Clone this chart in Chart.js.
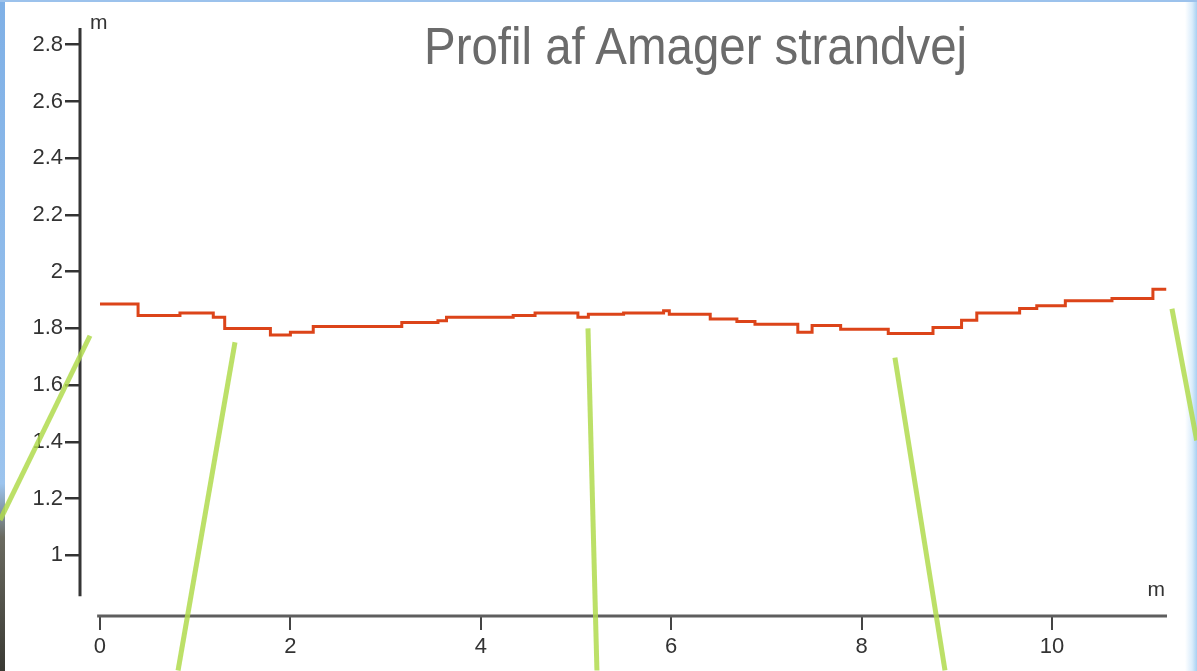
<!DOCTYPE html>
<html>
<head>
<meta charset="utf-8">
<title>Profil af Amager strandvej</title>
<script src="https://cdn.jsdelivr.net/npm/chart.js@4"></script>
<style>
    html, body { margin: 0; padding: 0; background: #fff; }
    #slide {
        position: relative;
        width: 1197px;
        height: 671px;
        overflow: hidden;
        background: #fff;
        border-top: 2px solid #9cc2ec;
        box-sizing: border-box;
    }
    #edgeRight {
        position: absolute; top: 0; right: 0; width: 12px; height: 100%;
        background: linear-gradient(to right, #ffffff, #d9ecfb 60%, #a8d0f2);
    }
    #edgeLeft {
        position: absolute; top: 0; left: 0; width: 5px; height: 100%;
        background: linear-gradient(to bottom, #7fb0e6 0%, #9cc4ee 72%, #6a6a60 80%, #3a3a34 100%);
    }
    #title {
        position: absolute; left: 424px; top: 19px;
        font-family: "Liberation Sans", Arial, sans-serif;
        font-size: 51px; line-height: 1; color: #6b6b6b;
        white-space: nowrap;
        transform: scaleX(0.93);
        transform-origin: left top;
    }
    #chartBox { position: absolute; left: 0; top: -2px; width: 1197px; height: 671px; }
</style>
</head>
<body>
<div id="slide">
    <div id="edgeLeft"></div>
    <div id="edgeRight"></div>
    <div id="chartBox"><canvas id="profileChart"></canvas></div>
    <div id="title">Profil af Amager strandvej</div>
</div>
<script>
// Road profile, distance (m) -> height (m)
const distance = [0, 0.40, 0.84, 1.19, 1.31, 1.79, 2.00, 2.24, 3.17, 3.55, 3.64, 4.34, 4.57, 5.02, 5.13, 5.50,
    5.92, 5.98, 6.41, 6.69, 6.88, 7.33, 7.48, 7.78, 8.28, 8.75, 9.05, 9.21, 9.66, 9.84, 10.14, 10.63, 11.06, 11.2];
const height = [1.886, 1.845, 1.854, 1.839, 1.800, 1.777, 1.786, 1.807, 1.821, 1.827, 1.839, 1.845, 1.854, 1.839, 1.850, 1.854,
    1.862, 1.850, 1.833, 1.824, 1.815, 1.786, 1.810, 1.797, 1.782, 1.803, 1.829, 1.854, 1.870, 1.880, 1.897, 1.905, 1.938, 1.938];

// Tick labels
const xTicks = [0, 2, 4, 6, 8, 10];
const yTicks = [1, 1.2, 1.4, 1.6, 1.8, 2, 2.2, 2.4, 2.6, 2.8];

// Green pointer lines on the slide, as [distance, height] pairs
const pointerStart = [[-1.05, 1.124], [1.418, 1.751], [5.126, 1.80], [8.35, 1.697], [11.26, 1.869]];
const pointerEnd = [[-0.105, 1.774], [0.82, 0.594], [5.22, 0.594], [8.876, 0.594], [11.52, 1.405]];

// Axis extents
const xRange = [-0.21, 11.208];
const yRange = [0.786, 2.859];
const xAxisFrom = -0.03;
const yAxisFrom = 0.856;

const labelFont = { family: '"Liberation Sans", Arial, sans-serif', size: 22 };

// Axis lines drawn apart from each other, like the original plot
const axisLines = {
    id: 'axisLines',
    beforeDatasetsDraw(chart) {
        const { ctx, chartArea, scales: { x, y } } = chart;
        ctx.save();
        ctx.lineWidth = 3;
        ctx.strokeStyle = '#353535';
        ctx.beginPath();
        ctx.moveTo(chartArea.left, chartArea.top);
        ctx.lineTo(chartArea.left, y.getPixelForValue(yAxisFrom));
        ctx.stroke();

        ctx.strokeStyle = '#5e5e5e';
        ctx.beginPath();
        ctx.moveTo(x.getPixelForValue(xAxisFrom), chartArea.bottom);
        ctx.lineTo(chartArea.right, chartArea.bottom);
        ctx.stroke();

        ctx.fillStyle = '#333';
        ctx.font = '21px "Liberation Sans", Arial, sans-serif';
        ctx.textBaseline = 'alphabetic';
        ctx.textAlign = 'left';
        ctx.fillText('m', chartArea.left + 10, chartArea.top + 1);
        ctx.textAlign = 'right';
        ctx.fillText('m', chartArea.right - 2, chartArea.bottom - 20);
        ctx.restore();
    }
};

const pointerSets = pointerStart.map((p, i) => ({
    data: [{ x: p[0], y: p[1] }, { x: pointerEnd[i][0], y: pointerEnd[i][1] }],
    borderColor: 'rgba(176, 218, 78, 0.85)',
    borderWidth: 5,
    pointRadius: 0,
    clip: false,
    order: 0
}));

new Chart(document.getElementById('profileChart'), {
    type: 'line',
    data: {
        datasets: [{
            data: distance.map((d, i) => ({ x: d, y: height[i] })),
            borderColor: '#dc4419',
            borderWidth: 3,
            pointRadius: 0,
            stepped: 'before',
            order: 1
        }].concat(pointerSets)
    },
    options: {
        responsive: true,
        maintainAspectRatio: false,
        animation: false,
        layout: { padding: { top: 28, right: 30, left: 0, bottom: 0 } },
        plugins: {
            legend: { display: false },
            tooltip: { enabled: false },
            title: { display: false }
        },
        scales: {
            x: {
                type: 'linear',
                min: xRange[0],
                max: xRange[1],
                afterBuildTicks: s => { s.ticks = xTicks.map(v => ({ value: v })); },
                afterFit: s => { s.height = 55; },
                border: { display: false },
                grid: { drawOnChartArea: false, drawTicks: true, tickLength: 14, color: '#444', lineWidth: 2 },
                ticks: { padding: 4, color: '#333', font: labelFont, maxRotation: 0 }
            },
            y: {
                type: 'linear',
                min: yRange[0],
                max: yRange[1],
                afterBuildTicks: s => { s.ticks = yTicks.map(v => ({ value: v })); },
                afterFit: s => { s.width = 80; },
                border: { display: false },
                grid: { drawOnChartArea: false, drawTicks: true, tickLength: 15, color: '#333', lineWidth: 2.5 },
                ticks: { padding: 2, color: '#333', font: labelFont, callback: v => String(+v.toFixed(1)) }
            }
        }
    },
    plugins: [axisLines]
});
</script>
</body>
</html>
